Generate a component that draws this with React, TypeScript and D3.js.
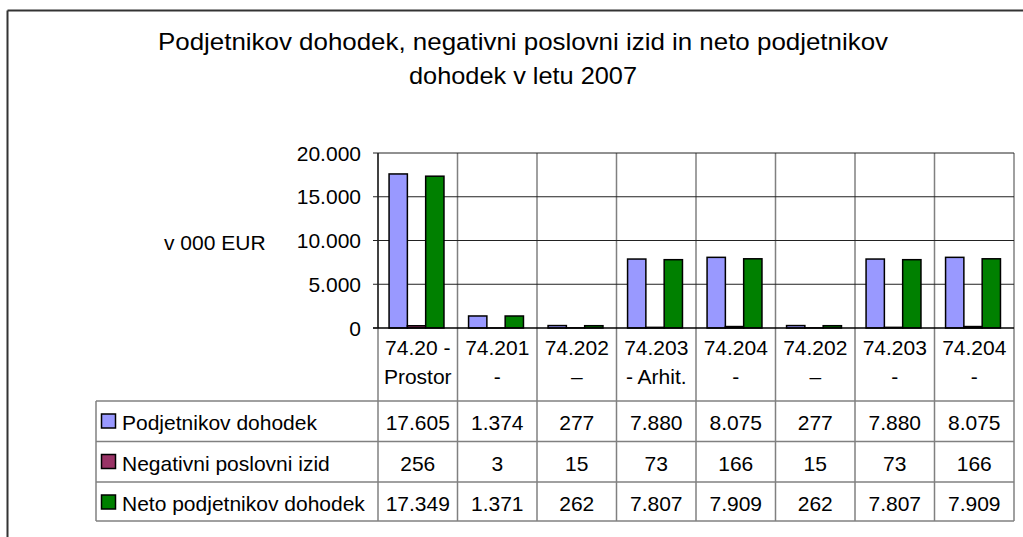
import React from "react";
import * as d3 from "d3";

const catLine1 = ["74.20 -", "74.201", "74.202", "74.203", "74.204", "74.202", "74.203", "74.204"];
const catLine2 = ["Prostor", "-", "–", "- Arhit.", "-", "–", "-", "-"];
const seriesNames = ["Podjetnikov dohodek", "Negativni poslovni izid", "Neto podjetnikov dohodek"];
const seriesColors = ["#9999FF", "#993366", "#008000"];
const podjetnikov = [17605, 1374, 277, 7880, 8075, 277, 7880, 8075];
const negativni = [256, 3, 15, 73, 166, 15, 73, 166];
const neto = [17349, 1371, 262, 7807, 7909, 262, 7807, 7909];
const yTicks = [0, 5000, 10000, 15000, 20000];
const titleLines = ["Podjetnikov dohodek, negativni poslovni izid in neto podjetnikov", "dohodek v letu 2007"];
const yAxisTitle = "v 000 EUR";

const seriesValues = [podjetnikov, negativni, neto];
const FONT = "'Liberation Sans', Arial, sans-serif";

const locale = d3.formatLocale({ decimal: ",", thousands: ".", grouping: [3], currency: ["", ""] });
const fmt = locale.format(",d");

export default function App() {
  const W = 1023, H = 537;
  const left = 378, right = 1014, top = 153, zeroY = 328;
  const x = d3.scaleBand<number>().domain(d3.range(catLine1.length)).range([left, right]).padding(0);
  const inner = d3.scaleBand<number>().domain(d3.range(3)).range([0, x.bandwidth()]).paddingInner(0).paddingOuter(0.672).align(0.45);
  const y = d3.scaleLinear().domain([0, 20000]).range([zeroY, top]);

  const tableLeft = 96;
  const catBottom = 401;
  const rowH = 40;
  const rowTops = [401, 441.5, 482];
  const tableBottom = 521;
  const fs = 21;
  const titleWidths = [730, 228];

  return (
    <svg width={W} height={H} style={{ position: "absolute", left: 0, top: 0, background: "#fff" }} fontFamily={FONT}>
      <rect x={0} y={0} width={W} height={H} fill="#fff" />
      {/* outer frame */}
      <line x1={7.5} y1={10.5} x2={W} y2={10.5} stroke="#333" strokeWidth={2} />
      <line x1={7.5} y1={10.5} x2={7.5} y2={H} stroke="#333" strokeWidth={2} />

      {/* title */}
      {titleLines.map((t, i) => (
        <text key={i} x={523} y={50 + i * 34} textAnchor="middle" fontSize={24} fill="#000"
          textLength={titleWidths[i]} lengthAdjust="spacingAndGlyphs">{t}</text>
      ))}
      <text x={164} y={250} fontSize={fs} fill="#000">{yAxisTitle}</text>

      {/* category separators (gray) */}
      {d3.range(catLine1.length + 1).map((i) => {
        const xx = i < catLine1.length ? x(i)! : right;
        return <line key={i} x1={xx} y1={top} x2={xx} y2={tableBottom} stroke="#808080" strokeWidth={1.5} />;
      })}

      {/* gridlines */}
      {yTicks.filter((t) => t > 0).map((t) => (
        <line key={t} x1={left} y1={y(t)} x2={right} y2={y(t)} stroke="#222" strokeWidth={1} />
      ))}

      {/* bars */}
      {catLine1.map((_, ci) => (
        <g key={ci}>
          {seriesValues.map((vals, si) => {
            const bx = x(ci)! + inner(si)!;
            const by = y(vals[ci]);
            return (
              <rect key={si} x={bx} y={by} width={inner.bandwidth()} height={zeroY - by}
                fill={seriesColors[si]} stroke="#000" strokeWidth={1.5} />
            );
          })}
        </g>
      ))}

      {/* axis */}
      <line x1={left} y1={top} x2={left} y2={zeroY} stroke="#222" strokeWidth={1.5} />
      <line x1={left - 5} y1={zeroY} x2={right} y2={zeroY} stroke="#000" strokeWidth={1.5} />
      {yTicks.map((t) => (
        <g key={t}>
          <line x1={left - 5} y1={y(t)} x2={left} y2={y(t)} stroke="#222" strokeWidth={1} />
          <text x={361} y={y(t) + 7.5} textAnchor="end" fontSize={fs} fill="#000">{fmt(t)}</text>
        </g>
      ))}

      {/* category labels */}
      {catLine1.map((c, i) => (
        <g key={i}>
          <text x={x(i)! + x.bandwidth() / 2} y={355} textAnchor="middle" fontSize={fs} fill="#000">{c}</text>
          <text x={x(i)! + x.bandwidth() / 2} y={384} textAnchor="middle" fontSize={fs} fill="#000">{catLine2[i]}</text>
        </g>
      ))}

      {/* data table */}
      {[...rowTops, tableBottom].map((ry, i) => (
        <line key={i} x1={tableLeft} y1={ry} x2={right} y2={ry} stroke="#808080" strokeWidth={1.5} />
      ))}
      <line x1={tableLeft} y1={catBottom} x2={tableLeft} y2={tableBottom} stroke="#808080" strokeWidth={1.5} />
      {seriesNames.map((s, si) => {
        const cy = rowTops[si] + rowH / 2;
        return (
          <g key={s}>
            <rect x={101.5} y={cy - 7} width={14} height={14} fill={seriesColors[si]} stroke="#000" strokeWidth={1.5} />
            <text x={122} y={cy + 9} fontSize={fs} fill="#000">{s}</text>
            {seriesValues[si].map((v, ci) => (
              <text key={ci} x={x(ci)! + x.bandwidth() / 2} y={cy + 9} textAnchor="middle" fontSize={fs} fill="#000">{fmt(v)}</text>
            ))}
          </g>
        );
      })}
    </svg>
  );
}
